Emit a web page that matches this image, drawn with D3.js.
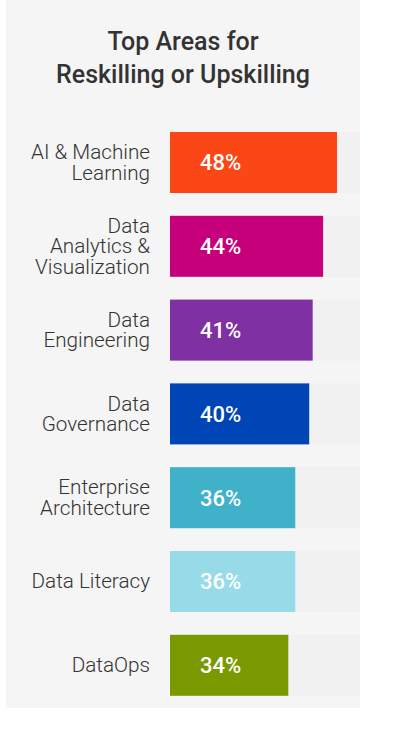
<!DOCTYPE html>
<html>
<head>
<meta charset="utf-8">
<script src="https://cdn.jsdelivr.net/npm/d3@7"></script>
<style>
  body { margin: 0; background: #fff; }
  svg { display: block; font-family: Roboto, "Noto Sans", sans-serif; }
</style>
</head>
<body>
<svg id="chart" width="398" height="745"></svg>
<script>
// data
var categories = ['AI & Machine\nLearning', 'Data\nAnalytics &\nVisualization', 'Data\nEngineering',
  'Data\nGovernance', 'Enterprise\nArchitecture', 'Data Literacy', 'DataOps'];
var values = [48, 44, 41, 40, 36, 36, 34];
var colors = ['#fb4615', '#c6007b', '#7f30a3', '#0045b5', '#3fb1c9', '#98dbe8', '#7a9900'];
var titleLines = ['Top Areas for', 'Reskilling or Upskilling'];

var data = categories.map(function(c, i){
  return { label: c, value: values[i], color: colors[i] };
});

var svg = d3.select('#chart');

// gray panel
svg.append('rect')
  .attr('x', 6).attr('y', 0)
  .attr('width', 354).attr('height', 708)
  .attr('fill', '#f5f5f5');

// title
svg.append('text')
  .attr('text-anchor', 'middle')
  .attr('fill', '#333')
  .attr('font-size', 25)
  .attr('font-weight', 500)
  .selectAll('tspan')
  .data(titleLines)
  .enter().append('tspan')
    .attr('x', 183)
    .attr('y', function(d, i){ return 50 + i * 33; })
    .text(function(d){ return d; });

// scales
var xScale = d3.scaleLinear()
  .domain([0, 54.6])
  .range([170, 360]);

var yScale = d3.scaleBand()
  .domain(data.map(function(d){ return d.label; }))
  .range([120.6, 707.2])
  .paddingInner(0.272)
  .paddingOuter(0.136);

var rows = svg.selectAll('g.row')
  .data(data)
  .enter().append('g')
  .attr('class', 'row')
  .attr('transform', function(d){ return 'translate(0,' + yScale(d.label) + ')'; });

// track
rows.append('rect')
  .attr('x', xScale(0))
  .attr('width', xScale.range()[1] - xScale(0))
  .attr('height', yScale.bandwidth())
  .attr('fill', '#f1f1f1');

// bar
rows.append('rect')
  .attr('x', xScale(0))
  .attr('width', function(d){ return xScale(d.value) - xScale(0); })
  .attr('height', yScale.bandwidth())
  .attr('fill', function(d){ return d.color; });

// value label
rows.append('text')
  .attr('x', 200)
  .attr('y', yScale.bandwidth() / 2 + 8)
  .attr('fill', '#fff')
  .attr('font-size', 22)
  .attr('font-weight', 500)
  .text(function(d){ return d.value + '%'; });

// category label, several lines, centred on the bar
var lineH = 20.5;
rows.append('text')
  .attr('text-anchor', 'end')
  .attr('fill', '#333')
  .attr('font-size', 20.7)
  .attr('font-weight', 300)
  .each(function(d){
    var lines = d.label.split('\n');
    var first = yScale.bandwidth() / 2 + 7 - (lines.length - 1) * lineH / 2;
    d3.select(this).selectAll('tspan')
      .data(lines)
      .enter().append('tspan')
        .attr('x', 150)
        .attr('y', function(l, i){ return first + i * lineH; })
        .text(function(l){ return l; });
  });
</script>
</body>
</html>
